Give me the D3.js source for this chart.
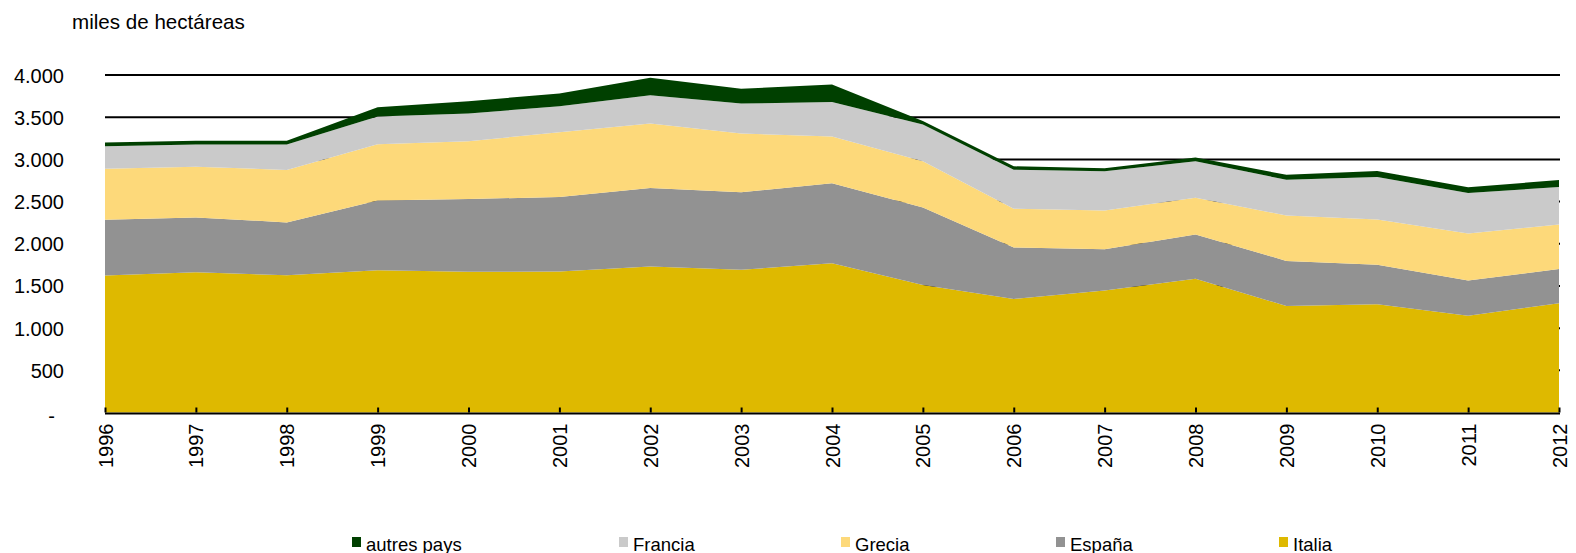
<!DOCTYPE html>
<html>
<head>
<meta charset="utf-8">
<script src="https://cdn.jsdelivr.net/npm/d3@7"></script>
<style>
  body { margin: 0; background: #fff; }
  svg { display: block; }
  text { font-family: "Liberation Sans", Arial, sans-serif; fill: #000; }
</style>
</head>
<body>
<svg id="chart" width="1576" height="553"></svg>
<script>
// ---- data ----
const years = [1996,1997,1998,1999,2000,2001,2002,2003,2004,2005,2006,2007,2008,2009,2010,2011,2012];
const italia  = [1623,1663,1627,1687,1667,1671,1730,1691,1770,1512,1346,1445,1584,1263,1283,1148,1295];
const espana  = [661,649,626,827,863,883,931,918,948,919,610,491,526,534,467,415,407];
const grecia  = [606,602,621,665,685,767,764,697,552,546,459,459,436,538,538,559,527];
const francia = [265,261,301,329,328,309,336,356,410,436,463,463,431,424,503,479,444];
const autres  = [45,45,45,110,147,151,206,175,208,42,40,38,45,58,70,68,82];
const seriesNames = ["Italia","España","Grecia","Francia","autres pays"];
const legendOrder = ["autres pays","Francia","Grecia","España","Italia"];
const yTickValues = [0,500,1000,1500,2000,2500,3000,3500,4000];
const yTickLabels = ["-","500","1.000","1.500","2.000","2.500","3.000","3.500","4.000"];
const unitLabel = "miles de hectáreas";

// ---- styles / layout ----
const colors = {"Italia":"#DEB900","España":"#929292","Grecia":"#FDD97A","Francia":"#CACACA","autres pays":"#004000"};
const legendX = {"autres pays":352,"Francia":619,"Grecia":841,"España":1056,"Italia":1279};
const plotLeft = 105, plotRight = 1559, plotTop = 75, plotBottom = 412.5;

const svg = d3.select("#chart");
const x = d3.scaleLinear().domain([1996, 2012]).range([plotLeft, plotRight]);
const y = d3.scaleLinear().domain([0, 4000]).range([plotBottom, plotTop]);

const table = years.map((yr, i) => ({
  year: yr, "Italia": italia[i], "España": espana[i], "Grecia": grecia[i],
  "Francia": francia[i], "autres pays": autres[i]
}));
const stacked = d3.stack().keys(seriesNames)(table);

// gridlines (behind areas)
svg.append("g").selectAll("line").data(yTickValues.filter(v => v > 0)).join("line")
  .attr("x1", plotLeft).attr("x2", plotRight + 1)
  .attr("y1", d => y(d)).attr("y2", d => y(d))
  .attr("stroke", "#000").attr("stroke-width", 2);

// areas
const area = d3.area()
  .x(d => x(d.data.year))
  .y0(d => y(d[0]))
  .y1(d => y(d[1]));
svg.append("g").selectAll("path").data(stacked).join("path")
  .attr("d", area)
  .attr("fill", d => colors[d.key]);

// x axis
const xAxis = d3.axisBottom(x).tickValues(years).tickFormat(d3.format("d")).tickSizeOuter(0).tickSizeInner(0);
const gx = svg.append("g").attr("transform", `translate(0,${plotBottom})`).call(xAxis);
gx.select(".domain").remove();
gx.append("line").attr("x1", plotLeft).attr("x2", plotRight + 1).attr("y1", 1).attr("y2", 1)
  .attr("stroke", "#000").attr("stroke-width", 2);
gx.selectAll(".tick").append("line").attr("y1", -5).attr("y2", 0)
  .attr("stroke", "#000").attr("stroke-width", 2);
gx.selectAll(".tick text")
  .attr("font-size", 20)
  .attr("font-family", "Liberation Sans, Arial, sans-serif")
  .attr("fill", "#000")
  .attr("text-anchor", "end")
  .attr("transform", "translate(0,11) rotate(-90)")
  .attr("x", 0).attr("y", 0).attr("dy", "0.35em");

// y axis labels
const yAxis = d3.axisLeft(y).tickValues(yTickValues)
  .tickFormat((d, i) => yTickLabels[i]).tickSize(0).tickPadding(0);
const gy = svg.append("g").attr("transform", `translate(64,0)`).call(yAxis);
gy.select(".domain").remove();
gy.selectAll(".tick text")
  .attr("font-size", 20)
  .attr("font-family", "Liberation Sans, Arial, sans-serif")
  .attr("fill", "#000")
  .attr("x", (d) => d === 0 ? -9 : 0)
  .attr("dy", (d) => d === 0 ? "0.5em" : "0.35em");

// unit label
svg.append("text").attr("x", 72).attr("y", 29).attr("font-size", 20.6).text(unitLabel);

// legend
const lg = svg.append("g");
legendOrder.forEach(k => {
  lg.append("rect").attr("x", legendX[k]).attr("y", 537).attr("width", 9).attr("height", 10)
    .attr("fill", colors[k]);
  lg.append("text").attr("x", legendX[k] + 14).attr("y", 550.5).attr("font-size", 18.5).text(k);
});
</script>
</body>
</html>
